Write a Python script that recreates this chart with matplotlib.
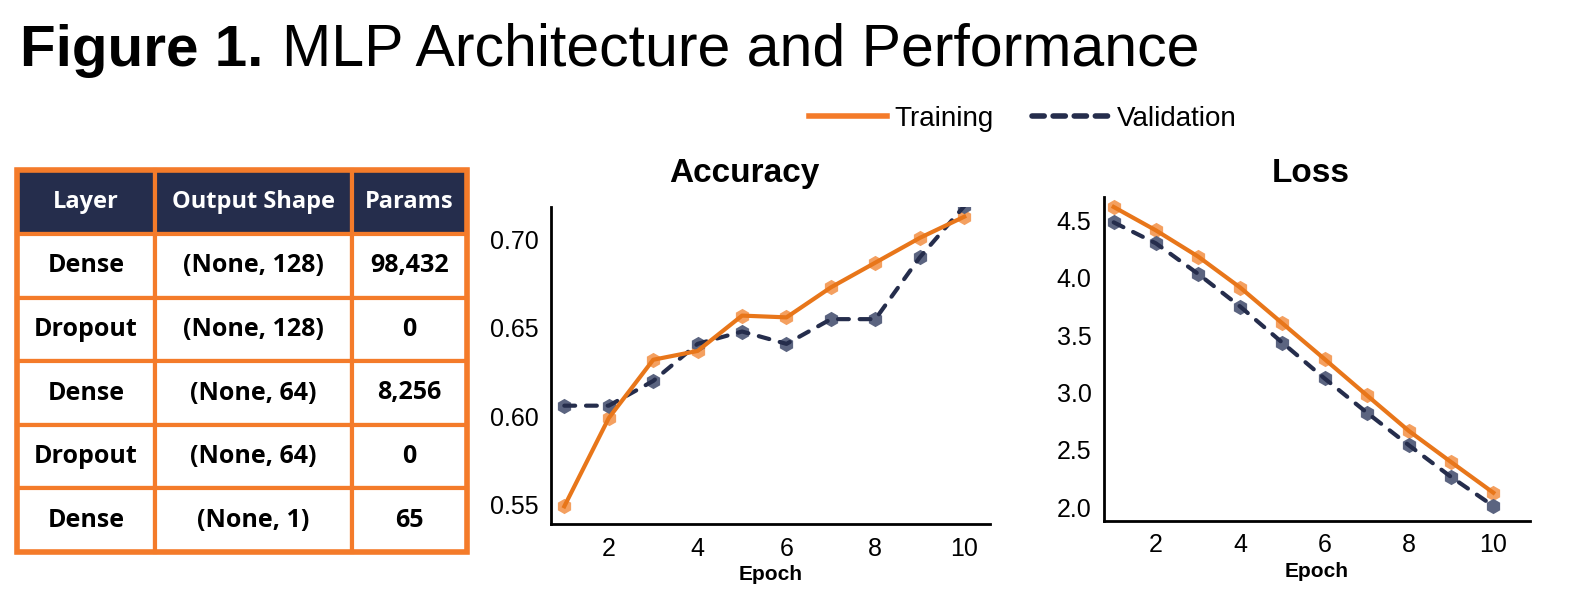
import matplotlib
matplotlib.use("Agg")
import matplotlib.pyplot as plt
from matplotlib.lines import Line2D

# data
epochs = [1, 2, 3, 4, 5, 6, 7, 8, 9, 10]
acc_train = [0.549, 0.599, 0.632, 0.637, 0.657, 0.656, 0.673, 0.687, 0.701, 0.713]
acc_val = [0.606, 0.606, 0.620, 0.641, 0.648, 0.641, 0.655, 0.655, 0.690, 0.719]
loss_train = [4.617, 4.413, 4.185, 3.914, 3.602, 3.290, 2.975, 2.663, 2.392, 2.125]
loss_val = [4.483, 4.300, 4.034, 3.748, 3.433, 3.121, 2.824, 2.538, 2.262, 2.009]

col_labels = ["Layer", "Output Shape", "Params"]
layers = ["Dense", "Dropout", "Dense", "Dropout", "Dense"]
shapes = ["(None, 128)", "(None, 128)", "(None, 64)", "(None, 64)", "(None, 1)"]
params = ["98,432", "0", "8,256", "0", "65"]

ORANGE = "#f47b2a"
LINE_ORANGE = "#e8761a"
NAVY = "#252d4c"
SANS = ['Liberation Sans', 'DejaVu Sans']

plt.rcParams['font.family'] = SANS

W, H = 1581, 597
fig = plt.figure(figsize=(W / 100, H / 100), dpi=100)


def box(l, t, r, b):
    return [l / W, 1 - b / H, (r - l) / W, (b - t) / H]


# title
fig.text(20 / W, 1 - 66 / H, "Figure 1.", fontsize=42, fontweight='bold', va='baseline', ha='left')
fig.text(282 / W, 1 - 66 / H, "MLP Architecture and Performance", fontsize=42.5,
         va='baseline', ha='left')

# table
axt = fig.add_axes(box(17, 170, 467, 552))
axt.axis('off')
rows = [list(r) for r in zip(layers, shapes, params)]
tbl = axt.table(cellText=rows, colLabels=col_labels, cellLoc='center',
                bbox=[0, 0, 1, 1], colWidths=[138, 197, 115])
tbl.auto_set_font_size(False)
hdr_h = 64 / 382
body_h = (1 - hdr_h) / 5
for (r, c), cell in tbl.get_celld().items():
    cell.set_edgecolor(ORANGE)
    cell.set_linewidth(3)
    txt = cell.get_text()
    txt.set_fontweight('bold')
    txt.set_family(['Open Sans', 'DejaVu Sans'])
    if r == 0:
        cell.set_facecolor(NAVY)
        cell.set_height(hdr_h)
        txt.set_color('white')
        txt.set_fontsize(17)
    else:
        cell.set_facecolor('white')
        cell.set_height(body_h)
        txt.set_fontsize(18)
# outer border
axt.add_patch(plt.Rectangle((0, 0), 1, 1, transform=axt.transAxes, fill=False,
                            edgecolor=ORANGE, linewidth=4, clip_on=False))

DASH = (0, (2.6, 2.6))


def style(ax, title, tx, tpad):
    for s in ['top', 'right']:
        ax.spines[s].set_visible(False)
    for s in ['left', 'bottom']:
        ax.spines[s].set_linewidth(2)
        ax.spines[s].set_color('black')
    ax.tick_params(length=0, labelsize=18, pad=9)
    ax.set_xticks([2, 4, 6, 8, 10])
    ax.set_xlabel("Epoch", fontsize=15, fontweight='bold', labelpad=3)
    ax.set_title(title, fontsize=24, fontweight='bold', x=tx, pad=tpad)


def draw(ax, tr, va):
    # markers under the lines
    ax.plot(epochs, tr, ls='none', marker='h', markersize=11,
            markerfacecolor='#f4a060', markeredgecolor='none', zorder=2)
    ax.plot(epochs, va, ls='none', marker='h', markersize=11,
            markerfacecolor='#5b6480', markeredgecolor='none', zorder=2)
    ax.plot(epochs, va, color=NAVY, lw=3, ls=DASH, dash_capstyle='round', zorder=3)
    ax.plot(epochs, tr, color=LINE_ORANGE, lw=3, zorder=4)


ax1 = fig.add_axes(box(551, 207, 990, 524))
draw(ax1, acc_train, acc_val)
ax1.set_xlim(0.7, 10.58)
ax1.set_ylim(0.539, 0.7185)
ax1.set_yticks([0.55, 0.60, 0.65, 0.70])
ax1.set_yticklabels(["0.55", "0.60", "0.65", "0.70"])
style(ax1, "Accuracy", 0.44, 18)

ax2 = fig.add_axes(box(1104, 197, 1530, 521))
draw(ax2, loss_train, loss_val)
ax2.set_xlim(0.77, 10.87)
ax2.set_ylim(1.878, 4.704)
ax2.set_yticks([2.0, 2.5, 3.0, 3.5, 4.0, 4.5])
ax2.set_yticklabels(["2.0", "2.5", "3.0", "3.5", "4.0", "4.5"])
style(ax2, "Loss", 0.485, 11)

handles = [Line2D([], [], color=ORANGE, lw=4),
           Line2D([], [], color=NAVY, lw=4, ls=(0, (2.2, 1.6)), dash_capstyle='round')]
fig.legend(handles, ["Training", "Validation"], loc='center', ncol=2, frameon=False,
           bbox_to_anchor=(1023 / W, 1 - 119 / H), handlelength=2.8,
           columnspacing=1.4, handletextpad=0.25, prop={'family': SANS, 'size': 20})

fig.savefig("out.png", dpi=100)
